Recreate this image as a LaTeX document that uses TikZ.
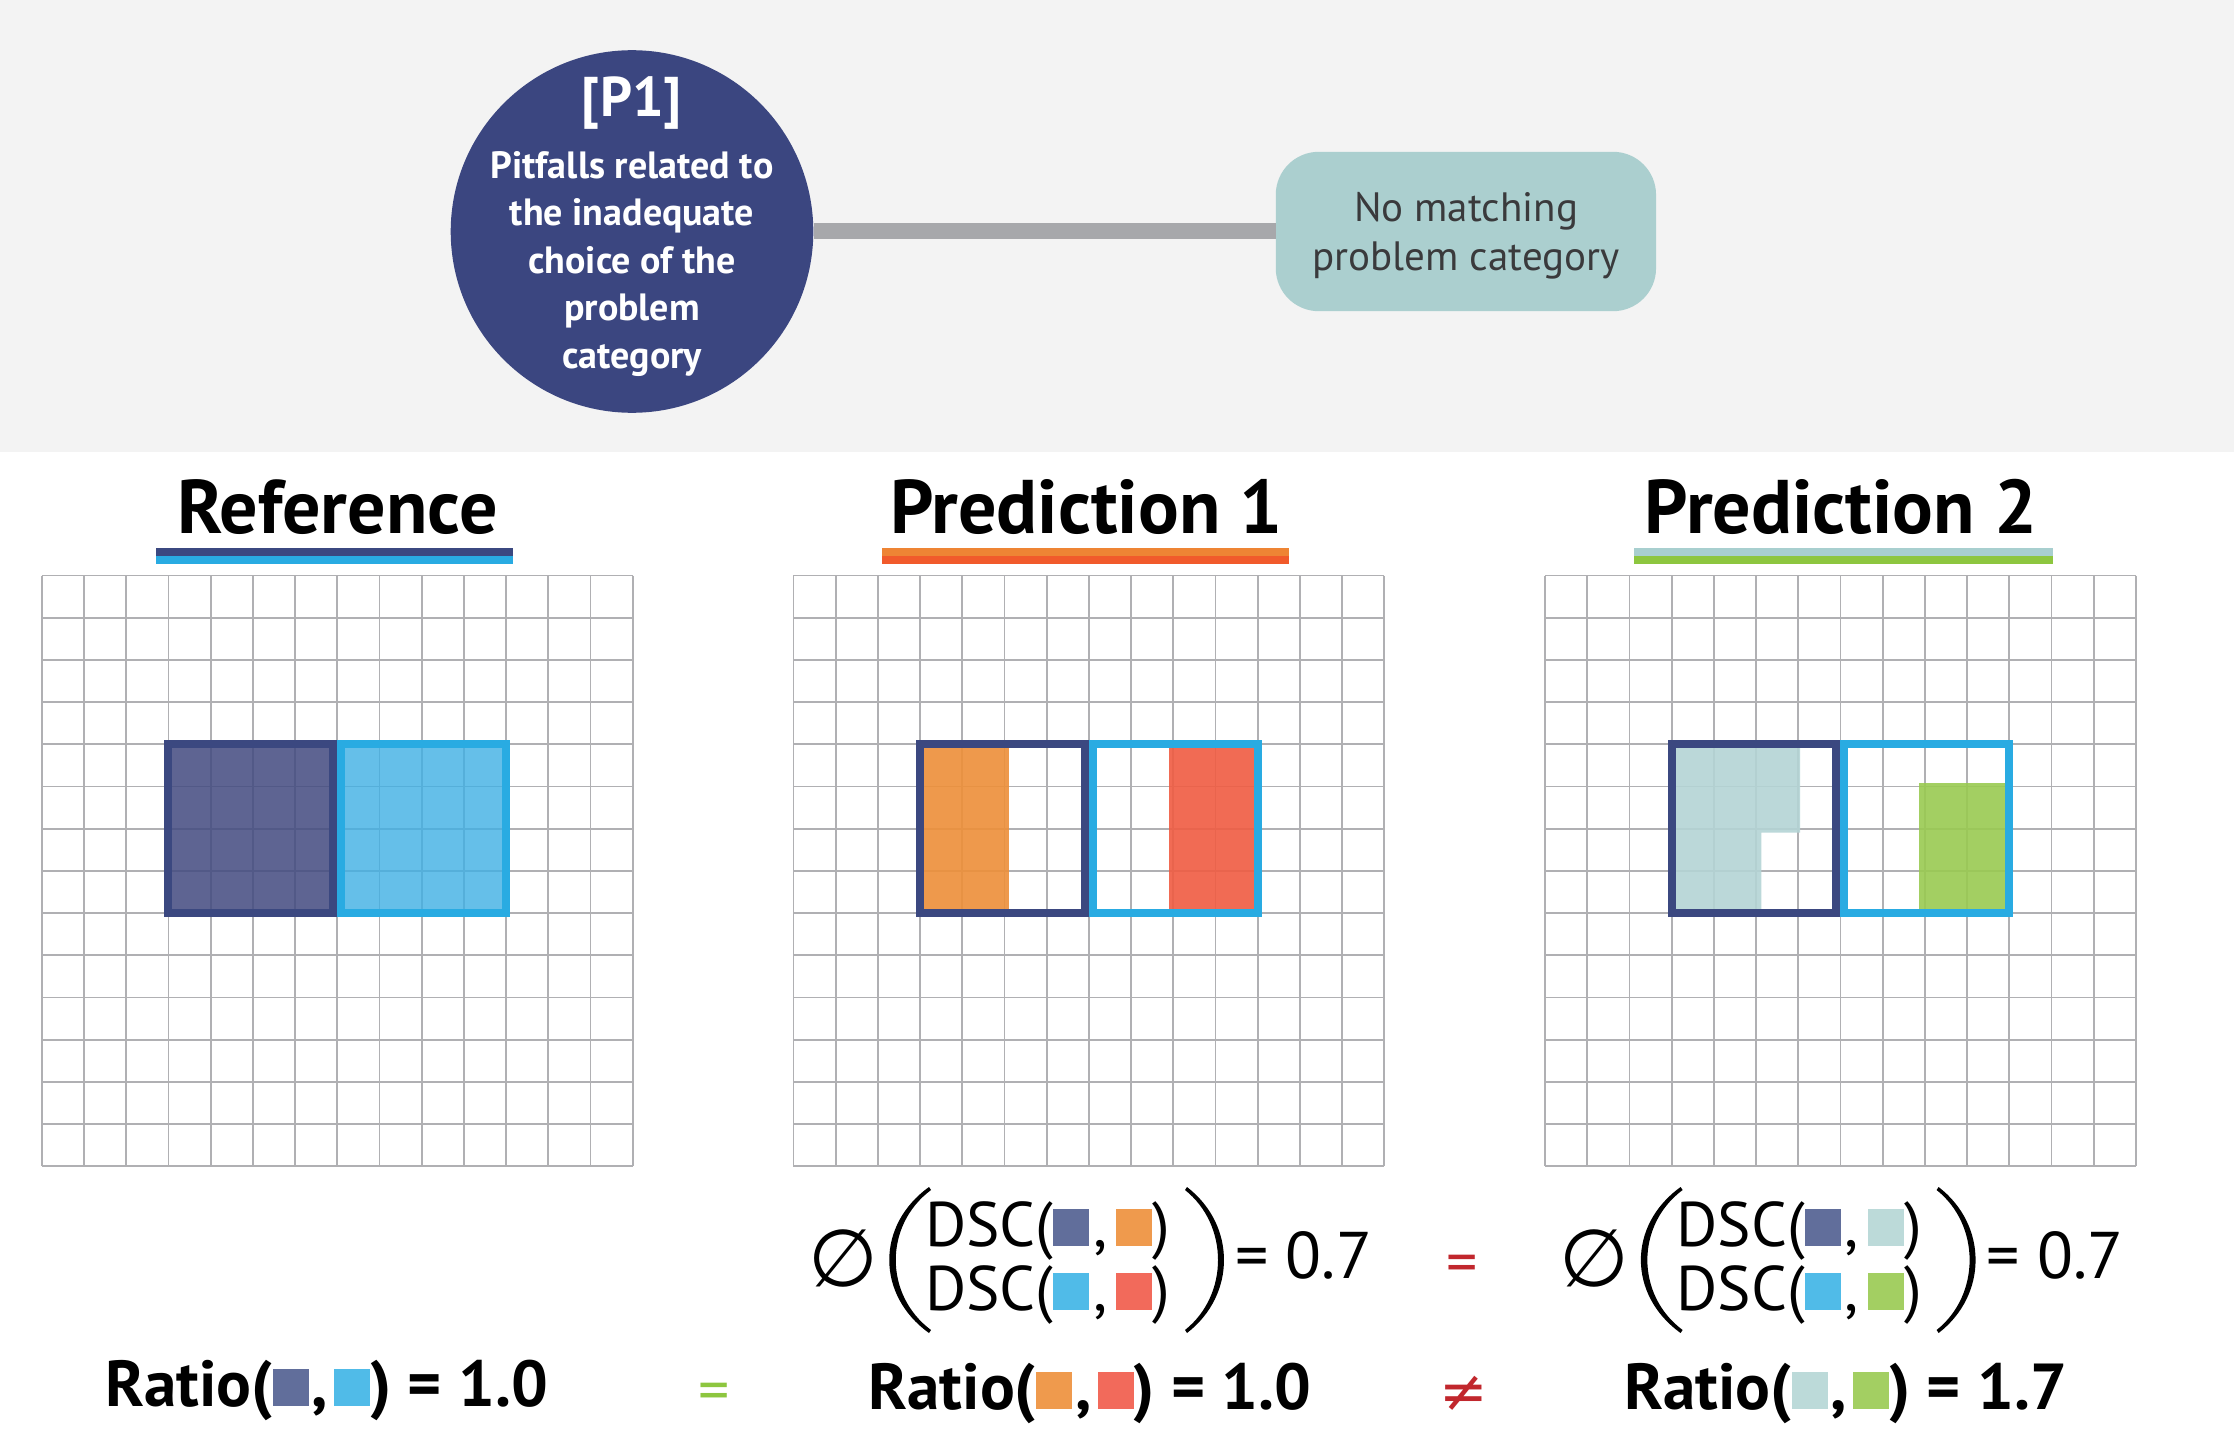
\documentclass[tikz,border=0pt]{standalone}
\usepackage{fontspec}
\setmainfont{PT Sans}
\newfontfamily\djv{DejaVu Sans}
\definecolor{band}{HTML}{F3F3F3}
\definecolor{navy}{HTML}{3B4680}
\definecolor{tealbox}{HTML}{ABCFCF}
\definecolor{conngray}{HTML}{A7A8AB}
\definecolor{darktext}{HTML}{3A3A3C}
\definecolor{gridgray}{HTML}{B0B0B3}
\definecolor{navyb}{HTML}{3B4880}
\definecolor{cyanb}{HTML}{29ABE2}
\definecolor{navyfill}{HTML}{424A80}
\definecolor{cyanfill}{HTML}{3FAFE4}
\definecolor{orfill}{HTML}{ED8F39}
\definecolor{redfill}{HTML}{F05C42}
\definecolor{tealfill}{HTML}{B4D4D5}
\definecolor{grfill}{HTML}{99CA51}
\definecolor{ulor}{HTML}{EE8434}
\definecolor{ulred}{HTML}{F15A2B}
\definecolor{ulteal}{HTML}{A8CFCF}
\definecolor{ulgreen}{HTML}{8DC63F}
\definecolor{sqnavy}{HTML}{616E9B}
\definecolor{sqcyan}{HTML}{50BBE8}
\definecolor{sqor}{HTML}{EF9A4D}
\definecolor{sqred}{HTML}{F26A5B}
\definecolor{sqteal}{HTML}{BCDAD9}
\definecolor{sqgreen}{HTML}{A3CF62}
\definecolor{signred}{HTML}{C1272D}
\definecolor{signgreen}{HTML}{8DC63F}
\newcommand{\sqbox}[1]{\textcolor{#1}{\rule{36pt}{37pt}}}
\tikzset{
  gridline/.style={draw=gridgray, line width=1.8pt},
  boxnavy/.style={draw=navyb, line width=8pt},
  boxcyan/.style={draw=cyanb, line width=8pt},
  txt/.style={inner sep=0pt, outer sep=0pt},
  titletxt/.style={txt, anchor=base, font=\bfseries\fontsize{76}{84}\selectfont},
  circtxt/.style={txt, anchor=base, text=white, font=\bfseries\fontsize{38}{44}\selectfont},
  recttxt/.style={txt, anchor=base, text=darktext, font=\fontsize{41}{48}\selectfont},
  dsctxt/.style={txt, anchor=base west, font=\fontsize{63}{70}\selectfont},
  valtxt/.style={txt, anchor=base west, font=\fontsize{66}{74}\selectfont},
  ratiotxt/.style={txt, anchor=base west, font=\bfseries\fontsize{65}{72}\selectfont},
  conn/.style={draw=conngray, line width=16pt},
  paren/.style={fill=black},
}
\newcommand{\DSCblock}[6]{%
  \begin{scope}[xshift=#1pt]
    \node[txt, font=\djv\fontsize{80}{86}\selectfont] (empty#2) at (843,1258) {∅};
    \fill[paren] (929,1187) .. controls (876,1225) and (876,1295) .. (929,1333)
      -- (931,1330) .. controls (884,1295) and (884,1225) .. (931,1190) -- cycle;
    \node[dsctxt] (dsca#2) at (925,1246) {DSC(\sqbox{#3}\hspace{4pt},\hspace{9pt}\sqbox{#4})};
    \node[dsctxt] (dscb#2) at (925,1310) {DSC(\sqbox{#5}\hspace{4pt},\hspace{9pt}\sqbox{#6})};
    \fill[paren] (1187,1187) .. controls (1236.3,1225) and (1236.3,1295) .. (1187,1333)
      -- (1185,1330) .. controls (1229,1295) and (1229,1225) .. (1185,1190) -- cycle;
    \node[valtxt] (val#2) at (1235,1278.3) {= 0.7};
  \end{scope}}
\begin{document}
\begin{tikzpicture}[x=1pt,y=-1pt]
\useasboundingbox (0,0) rectangle (2234,1447);
\fill[white] (0,0) rectangle (2234,1447);
\fill[band] (0,0) rectangle (2234,452);
% top part
\node[circle, fill=navy, minimum size=362.6pt, inner sep=0pt] (p1) at (632,231.5) {};
\node[rectangle, rounded corners=43pt, fill=tealbox, minimum width=380.3pt, minimum height=159.4pt, inner sep=0pt] (nomatch) at (1465.9,231.5) {};
\draw[conn] (p1) -- (nomatch);
\node[circtxt, font=\bfseries\fontsize{56}{62}\selectfont] (p1label) at (632,117) {[P1]};
\node[circtxt] (p1l1) at (632,179) {Pitfalls related to};
\node[circtxt] (p1l2) at (632,226) {the inadequate};
\node[circtxt] (p1l3) at (632,273.3) {choice of the};
\node[circtxt] (p1l4) at (632,320.5) {problem};
\node[circtxt] (p1l5) at (632,368) {category};
\node[recttxt] (nm1) at (1466,222) {No matching};
\node[recttxt] (nm2) at (1466,270.5) {problem category};
% titles
\node[titletxt] (tref) at (337.5,533.8) {Reference};
\node[titletxt] (tp1) at (1086.5,533.8) {Prediction 1};
\node[titletxt] (tp2) at (1841,533.8) {Prediction 2};
\fill[navyb] (155.7,547.7) rectangle (512.8,555.8);
\fill[cyanb] (155.7,555.8) rectangle (512.8,563.8);
\fill[ulor] (882.3,547.7) rectangle (1289.2,555.8);
\fill[ulred] (882.3,555.8) rectangle (1289.2,563.8);
\fill[ulteal] (1634.2,547.7) rectangle (2052.6,555.8);
\fill[ulgreen] (1634.2,555.8) rectangle (2052.6,563.8);
% grids
\foreach \g in {41.8,793.4,1545} {
  \foreach \i in {0,...,14} {
    \draw[gridline] ({\g+\i*42.2},575.5) -- ({\g+\i*42.2},1166.3);
    \draw[gridline] (\g,{575.5+\i*42.2}) -- ({\g+590.8},{575.5+\i*42.2});
  }
}
% reference
\fill[navyfill, fill opacity=.85] (168.4,744.3) rectangle (333.2,913.1);
\fill[cyanfill, fill opacity=.8] (341.2,744.3) rectangle (506,913.1);
\draw[boxnavy] (168.4,744.3) rectangle (333.2,913.1);
\draw[boxcyan] (341.2,744.3) rectangle (506,913.1);
% prediction 1
\fill[orfill, fill opacity=.9] (920,744.3) rectangle (1009,913.1);
\fill[redfill, fill opacity=.9] (1169,744.3) rectangle (1257.6,913.1);
\draw[boxnavy] (920,744.3) rectangle (1084.8,913.1);
\draw[boxcyan] (1092.8,744.3) rectangle (1257.6,913.1);
% prediction 2
\fill[tealfill, fill opacity=.9] (1671.6,744.3) -- (1800,744.3) -- (1800,832.7) -- (1761.3,832.7) -- (1761.3,913.1) -- (1671.6,913.1) -- cycle;
\fill[grfill, fill opacity=.9] (1919,782.7) rectangle (2009.2,913.1);
\draw[boxnavy] (1671.6,744.3) rectangle (1836.4,913.1);
\draw[boxcyan] (1844.4,744.3) rectangle (2009.2,913.1);
% formulas
\DSCblock{0}{A}{sqnavy}{sqor}{sqcyan}{sqred}
\DSCblock{751.6}{B}{sqnavy}{sqteal}{sqcyan}{sqgreen}
\node[txt, text=signred, font=\fontsize{62}{70}\selectfont] (eqred) at (1462.5,1269) {=};
\node[txt, text=signred, font=\djv\fontsize{58}{66}\selectfont] (neqred) at (1463.5,1394) {≠};
\node[txt, text=signgreen, font=\fontsize{62}{70}\selectfont] (eqgreen) at (714.5,1397) {=};
\node[ratiotxt] (rref) at (105,1406) {Ratio(\sqbox{sqnavy}\hspace{3pt},\hspace{6pt}\sqbox{sqcyan}) = 1.0};
\node[ratiotxt] (rp1) at (868.5,1409.3) {Ratio(\sqbox{sqor}\hspace{3pt},\hspace{6pt}\sqbox{sqred}) = 1.0};
\node[ratiotxt] (rp2) at (1624,1409.3) {Ratio(\sqbox{sqteal}\hspace{3pt},\hspace{6pt}\sqbox{sqgreen}) = 1.7};
\end{tikzpicture}
\end{document}
